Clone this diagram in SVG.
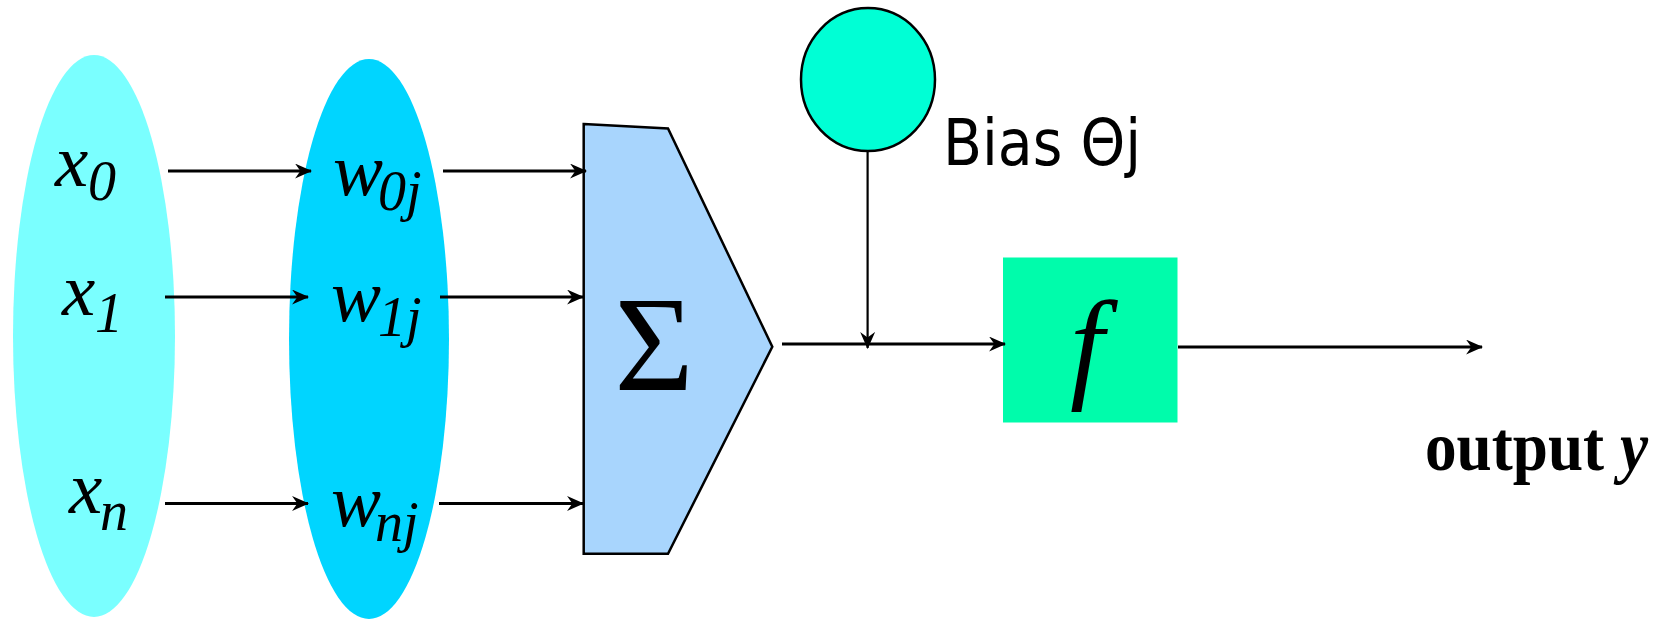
<svg xmlns="http://www.w3.org/2000/svg" width="1666" height="619" viewBox="0 0 1666 619">
<style>
.m{font-family:"Liberation Serif","Times New Roman",serif;font-style:italic;font-size:75px;fill:#000}
.s{font-size:56px}
.conn line{stroke:#000;stroke-width:3;fill:none}
.thin{stroke-width:2.2 !important}
</style>
<defs>
<marker id="ah" markerUnits="userSpaceOnUse" viewBox="0 0 16 14" refX="15" refY="7" markerWidth="17" markerHeight="15" orient="auto">
<path d="M0,0 L16,7 L0,14 L5,7 z" fill="#000"/>
</marker>
</defs>
<rect width="1666" height="619" fill="#fff"/>
<g id="inputs">
<ellipse cx="94" cy="336" rx="81" ry="281" fill="#7AFFFF"/>
<text class="m" x="55" y="186">x<tspan class="s" x="88" y="200">0</tspan></text>
<text class="m" x="62" y="315">x<tspan class="s" x="95" y="332">1</tspan></text>
<text class="m" x="69" y="513">x<tspan class="s" x="100" y="530">n</tspan></text>
</g>
<g id="weights">
<ellipse cx="369" cy="339" rx="80" ry="280" fill="#00D5FF"/>
<text class="m" x="333" y="195">w<tspan class="s" x="378" y="210">0j</tspan></text>
<text class="m" x="331" y="321">w<tspan class="s" x="378" y="336">1j</tspan></text>
<text class="m" x="331" y="526">w<tspan class="s" x="375" y="541">nj</tspan></text>
</g>
<g id="sum">
<polygon points="583.7,124 668,128.4 772.3,346.7 668,553.8 583.7,553.8" fill="#A8D5FD" stroke="#000" stroke-width="2.5"/>
<text x="654" y="390" text-anchor="middle" font-family="Liberation Serif,'Times New Roman',serif" font-size="136">Σ</text>
</g>
<g id="bias">
<ellipse cx="868" cy="79.6" rx="67" ry="71.5" fill="#00FFD5" stroke="#000" stroke-width="2.5"/>
<text x="943" y="165" font-family="'DejaVu Sans Condensed','DejaVu Sans',sans-serif" font-stretch="condensed" font-size="64" textLength="198" lengthAdjust="spacingAndGlyphs">Bias Θj</text>
</g>
<g id="activation">
<rect x="1003" y="257.5" width="174.5" height="165" fill="#00FCAB"/>
<text x="1070" y="386" font-family="'Liberation Serif','Times New Roman',serif" font-style="italic" font-size="122">f</text>
</g>
<g id="output">
<text x="1425" y="470" font-family="'Liberation Serif','Times New Roman',serif" font-weight="bold" font-size="70" textLength="223" lengthAdjust="spacingAndGlyphs">output <tspan font-style="italic">y</tspan></text>
</g>
<g class="conn" id="connectors">
<line x1="168" y1="171" x2="311" y2="171" marker-end="url(#ah)"/>
<line x1="165" y1="297" x2="308" y2="297" marker-end="url(#ah)"/>
<line x1="165" y1="503.5" x2="308" y2="503.5" marker-end="url(#ah)"/>
<line x1="443" y1="171" x2="586" y2="171" marker-end="url(#ah)"/>
<line x1="440" y1="297" x2="583" y2="297" marker-end="url(#ah)"/>
<line x1="439" y1="503.5" x2="583" y2="503.5" marker-end="url(#ah)"/>
<line x1="782" y1="344" x2="1005" y2="344" marker-end="url(#ah)"/>
<line class="thin" x1="867.6" y1="151" x2="867.6" y2="348" marker-end="url(#ah)"/>
<line x1="1178" y1="347" x2="1482" y2="347" marker-end="url(#ah)"/>
</g>
</svg>
